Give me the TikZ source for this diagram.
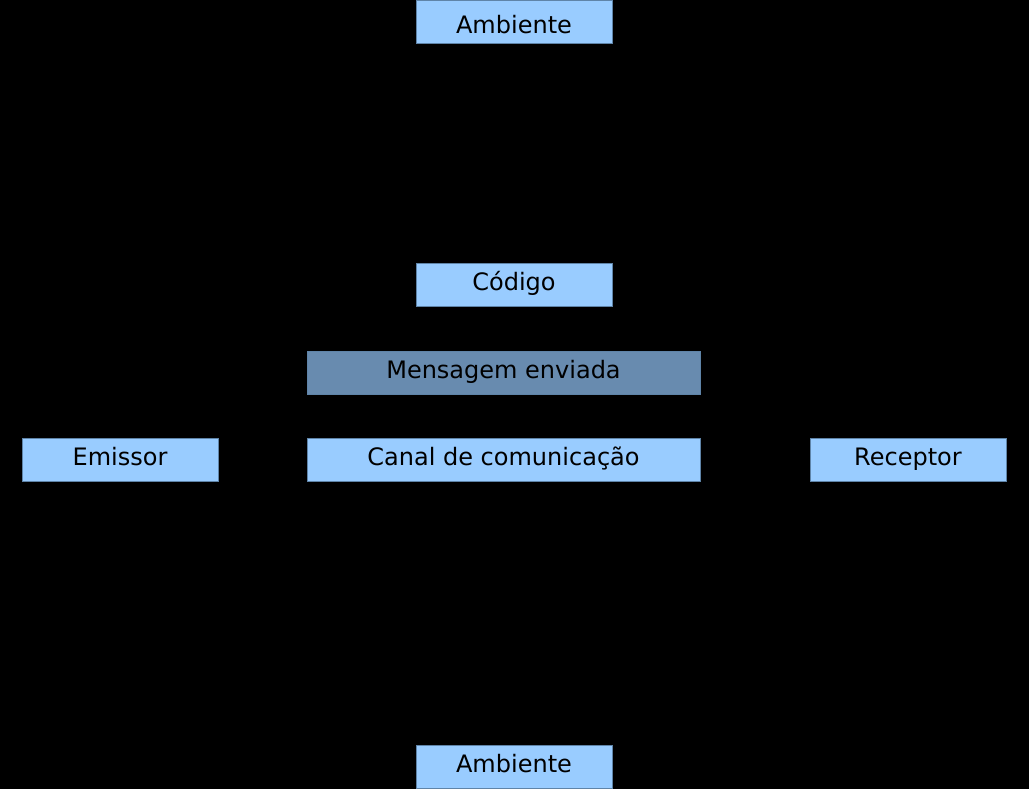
\documentclass[tikz,border=0pt]{standalone}
\usepackage{fontspec}
\setmainfont{DejaVu Sans}
\definecolor{boxfill}{HTML}{99CCFF}
\definecolor{boxdark}{HTML}{688BAF}
\definecolor{boxline}{HTML}{5F84A8}
\tikzset{
  box/.style={draw=boxline,line width=0.75pt,fill=boxfill,inner sep=0pt,
    minimum width=147pt,minimum height=32.25pt,text height=12.75pt,text depth=3.75pt,
    font=\fontsize{18pt}{21pt}\selectfont},
  widebox/.style={box,minimum width=294.75pt}
}
\begin{document}
\begin{tikzpicture}[x=0.75pt,y=-0.75pt]

\path[fill=black] (0,0) rectangle (1029,789);
\useasboundingbox (0,0) rectangle (1029,789);

%ambiente
\node[box,text height=17.25pt,text depth=0pt] (amb1) at (514,21.5) {Ambiente};
\node[box] (amb2) at (514,766.5) {Ambiente};

%codigo
\node[box] (cod) at (514,284.5) {Código};

%mensagem
\node[widebox,fill=boxdark] (msg) at (503.5,372.5) {Mensagem enviada};

%canal
\node[widebox] (canal) at (503.5,459.5) {Canal de comunicação};

%emissor, receptor
\node[box] (em) at (120,459.5) {Emissor};
\node[box] (rec) at (908,459.5) {Receptor};

\end{tikzpicture}
\end{document}
